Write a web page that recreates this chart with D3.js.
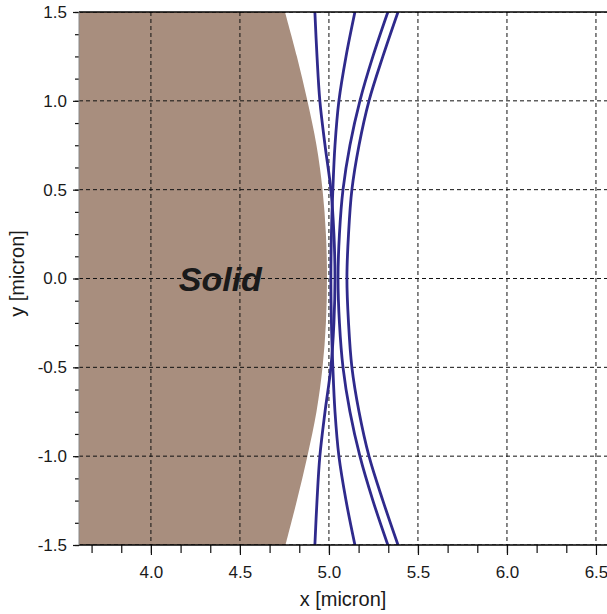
<!DOCTYPE html>
<html>
<head>
<meta charset="utf-8">
<script src="https://cdn.jsdelivr.net/npm/d3@7"></script>
<style>
  body { margin: 0; background: #fff; }
  svg { display: block; font-family: "Liberation Sans", Arial, sans-serif; }
</style>
</head>
<body>
<div id="chart"></div>
<script>
// values (micron)
var yLevels   = [1.5, 1.25, 1.0, 0.75, 0.5, 0.25, 0, -0.25, -0.5, -0.75, -1.0, -1.25, -1.5];
var solidEdge = [4.753, 4.820, 4.879, 4.930, 4.964, 4.983, 4.989, 4.983, 4.964, 4.930, 4.879, 4.820, 4.756];
var curveA = [4.921, 4.933, 4.949, 4.978, 5.011, 5.028, 5.034, 5.028, 5.011, 4.978, 4.949, 4.933, 4.921];
var curveB = [5.146, 5.096, 5.056, 5.034, 5.022, 5.014, 5.011, 5.014, 5.022, 5.034, 5.056, 5.096, 5.146];
var curveC = [5.331, 5.247, 5.174, 5.118, 5.079, 5.059, 5.051, 5.059, 5.079, 5.118, 5.174, 5.247, 5.331];
var curveD = [5.388, 5.303, 5.225, 5.169, 5.129, 5.110, 5.101, 5.110, 5.129, 5.169, 5.225, 5.303, 5.388];
var xTicks = [4.0, 4.5, 5.0, 5.5, 6.0, 6.5];
var yTicks = [1.5, 1.0, 0.5, 0.0, -0.5, -1.0, -1.5];
var xDomain = [3.596, 6.562];
var yDomain = [-1.5, 1.5];

var margin = {top: 12, right: 0, bottom: 69, left: 79};
var width = 607 - margin.left - margin.right,
    height = 614 - margin.top - margin.bottom;

var xScale = d3.scaleLinear().domain(xDomain).range([0, width]);
var yScale = d3.scaleLinear().domain(yDomain).range([height, 0]);

var svg = d3.select("#chart").append("svg")
    .attr("width", 607)
    .attr("height", 614)
  .append("g")
    .attr("transform", "translate(" + margin.left + "," + margin.top + ")");

svg.append("clipPath").attr("id", "plot-clip")
  .append("rect").attr("width", width).attr("height", height);

var plot = svg.append("g").attr("clip-path", "url(#plot-clip)");

// solid region
var solid = yLevels.map(function(y, i) { return {y: y, x: solidEdge[i]}; });
var area = d3.area()
    .curve(d3.curveCatmullRom)
    .y(function(d) { return yScale(d.y); })
    .x0(xScale(xDomain[0]))
    .x1(function(d) { return xScale(d.x); });
plot.append("path")
    .datum(solid)
    .attr("d", area)
    .attr("fill", "#a88e7e");

// grid
plot.selectAll(".vgrid").data(xTicks).enter().append("line")
    .attr("x1", function(d) { return xScale(d); })
    .attr("x2", function(d) { return xScale(d); })
    .attr("y1", 0).attr("y2", height)
    .attr("stroke", "#111").attr("stroke-width", 1)
    .attr("stroke-dasharray", "4,3");
plot.selectAll(".hgrid").data(yTicks).enter().append("line")
    .attr("y1", function(d) { return yScale(d); })
    .attr("y2", function(d) { return yScale(d); })
    .attr("x1", 0).attr("x2", width)
    .attr("stroke", "#111").attr("stroke-width", 1)
    .attr("stroke-dasharray", "4,3");

// curves
var series = [curveA, curveB, curveC, curveD].map(function(xs) {
  return yLevels.map(function(y, i) { return {y: y, x: xs[i]}; });
});
var line = d3.line()
    .curve(d3.curveCatmullRom)
    .x(function(d) { return xScale(d.x); })
    .y(function(d) { return yScale(d.y); });
plot.selectAll(".curve").data(series).enter().append("path")
    .attr("d", line)
    .attr("fill", "none")
    .attr("stroke", "#2f2a8c")
    .attr("stroke-width", 2.8);

// label
svg.append("text")
    .attr("x", xScale(4.39))
    .attr("y", yScale(0) + 12)
    .attr("text-anchor", "middle")
    .style("font-size", "34px")
    .style("font-weight", "bold")
    .style("font-style", "italic")
    .attr("fill", "#1a1a1a")
    .text("Solid");

// axes
var fmt = function(d) { return d3.format(".1f")(d).replace("\u2212", "-"); };
var xMinor = d3.range(0, 18).map(function(i) { return 3.5 + i / 6; })
    .filter(function(v) { return v > xDomain[0] && v < xDomain[1]; });
var yMinor = d3.range(0, 25).map(function(i) { return -1.5 + i * 0.125; });

var xAxis = d3.axisBottom(xScale).tickValues(xTicks).tickSize(10).tickPadding(11).tickFormat(fmt);
var xAxisMinor = d3.axisBottom(xScale).tickValues(xMinor).tickSize(8).tickFormat("");
var yAxis = d3.axisLeft(yScale).tickValues(yTicks).tickSize(6).tickPadding(6).tickFormat(fmt);
var yAxisMinor = d3.axisLeft(yScale).tickValues(yMinor).tickSize(4).tickFormat("");

svg.append("g").attr("transform", "translate(0," + height + ")").call(xAxisMinor);
svg.append("g").attr("transform", "translate(0," + height + ")").call(xAxis);
svg.append("g").call(yAxisMinor);
svg.append("g").call(yAxis);

svg.selectAll(".domain").remove();
svg.selectAll(".tick line").attr("stroke", "#111").attr("stroke-width", 1.2);
svg.selectAll(".tick text")
    .style("font-size", "17px")
    .style("font-family", "'Liberation Sans', Arial, sans-serif")
    .attr("fill", "#1a1a1a");

// frame lines
svg.append("line").attr("x1", 0).attr("x2", width).attr("y1", height).attr("y2", height)
    .attr("stroke", "#000").attr("stroke-width", 1.5);
svg.append("line").attr("x1", 0).attr("x2", width).attr("y1", 0).attr("y2", 0)
    .attr("stroke", "#000").attr("stroke-width", 1.5);
svg.append("line").attr("x1", 0).attr("x2", 0).attr("y1", 0).attr("y2", height)
    .attr("stroke", "#888").attr("stroke-width", 1);

// axis titles
svg.append("text")
    .attr("x", width / 2)
    .attr("y", height + 61)
    .attr("text-anchor", "middle")
    .style("font-size", "20px")
    .attr("fill", "#1a1a1a")
    .text("x [micron]");
svg.append("text")
    .attr("transform", "translate(" + (-55) + "," + (yScale(0) - 5) + ") rotate(-90)")
    .attr("text-anchor", "middle")
    .style("font-size", "20px")
    .attr("fill", "#1a1a1a")
    .text("y [micron]");
</script>
</body>
</html>
